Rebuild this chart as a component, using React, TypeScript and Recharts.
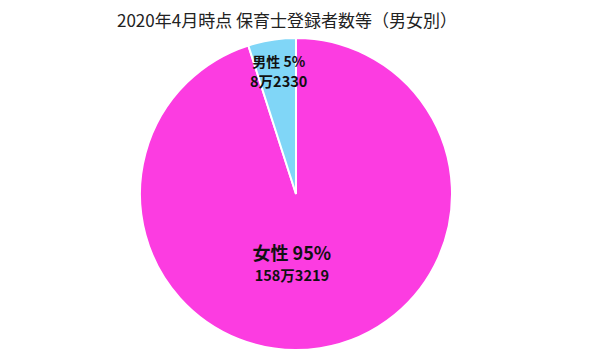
import React from 'react';
import { PieChart, Pie, Cell } from 'recharts';

const categories = ['女性', '男性'];
const values = [1583219, 82330];
const valueLabels = ['158万3219', '8万2330'];
const percentLabels = ['95%', '5%'];
const colors = ['#FC3CE1', '#80D6F7'];

const data = categories.map((name, i) => ({ name, value: values[i] }));

const FONT = '"Noto Sans CJK JP", "Noto Sans", sans-serif';
const RAD = Math.PI / 180;

const labelLayout = [
  { r: 0.45, dx: -15, size1: 18, size2: 14.5, gap: 22 },
  { r: 0.8, dx: 2, size1: 14, size2: 14.5, gap: 19 },
];

const renderLabel = (props: any) => {
  const { cx, cy, midAngle, outerRadius, index } = props;
  const lay = labelLayout[index];
  const r = outerRadius * lay.r;
  const x = cx + r * Math.cos(-midAngle * RAD) + lay.dx;
  const y = cy + r * Math.sin(-midAngle * RAD);
  return (
    <g>
      <text
        x={x}
        y={y - lay.gap / 2}
        textAnchor="middle"
        dominantBaseline="central"
        fontFamily={FONT}
        fontWeight="bold"
        fontSize={lay.size1}
        fill="#111"
      >
        {`${categories[index]} ${percentLabels[index]}`}
      </text>
      <text
        x={x}
        y={y + lay.gap / 2}
        textAnchor="middle"
        dominantBaseline="central"
        fontFamily={FONT}
        fontWeight="bold"
        fontSize={lay.size2}
        fill="#111"
      >
        {valueLabels[index]}
      </text>
    </g>
  );
};

export default function App() {
  return (
    <div style={{ position: 'absolute', left: 0, top: 0, width: 600, height: 364, background: '#fff' }}>
      <PieChart width={600} height={364} margin={{ top: 0, right: 0, bottom: 0, left: 0 }}>
        <text
          x={287}
          y={19}
          textAnchor="middle"
          dominantBaseline="central"
          fontFamily={FONT}
          fontSize={17}
          fill="#222"
        >
          2020年4月時点 保育士登録者数等（男女別）
        </text>
        <Pie
          data={data}
          dataKey="value"
          nameKey="name"
          cx={296}
          cy={194}
          outerRadius={156}
          startAngle={90}
          endAngle={-270}
          stroke="#fff"
          strokeWidth={2}
          label={renderLabel}
          labelLine={false}
          isAnimationActive={false}
        >
          {data.map((d, i) => (
            <Cell key={d.name} fill={colors[i]} />
          ))}
        </Pie>
      </PieChart>
    </div>
  );
}
